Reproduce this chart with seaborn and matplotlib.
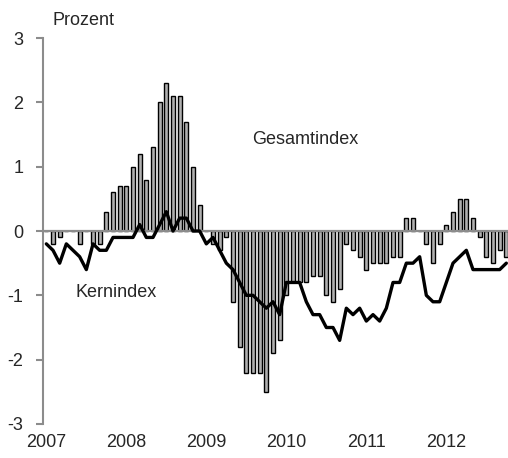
import numpy as np
import pandas as pd
import seaborn as sns
import matplotlib.pyplot as plt

# Data: monthly values, Jan 2007 - Oct 2012
year_labels = ["2007", "2008", "2009", "2010", "2011", "2012"]

gesamtindex = [0, -0.2, -0.1, 0, 0, -0.2, 0, -0.2, -0.2, 0.3, 0.6, 0.7,
               0.7, 1.0, 1.2, 0.8, 1.3, 2.0, 2.3, 2.1, 2.1, 1.7, 1.0, 0.4,
               0, -0.2, -0.3, -0.1, -1.1, -1.8, -2.2, -2.2, -2.2, -2.5, -1.9, -1.7,
               -1.0, -0.8, -0.8, -0.8, -0.7, -0.7, -1.0, -1.1, -0.9, -0.2, -0.3, -0.4,
               -0.6, -0.5, -0.5, -0.5, -0.4, -0.4, 0.2, 0.2, 0, -0.2, -0.5, -0.2,
               0.1, 0.3, 0.5, 0.5, 0.2, -0.1, -0.4, -0.5, -0.3, -0.4]

kernindex = [-0.2, -0.3, -0.5, -0.2, -0.3, -0.4, -0.6, -0.2, -0.3, -0.3, -0.1, -0.1,
             -0.1, -0.1, 0.1, -0.1, -0.1, 0.1, 0.3, 0.0, 0.2, 0.2, 0.0, 0.0,
             -0.2, -0.1, -0.3, -0.5, -0.6, -0.8, -1.0, -1.0, -1.1, -1.2, -1.1, -1.3,
             -0.8, -0.8, -0.8, -1.1, -1.3, -1.3, -1.5, -1.5, -1.7, -1.2, -1.3, -1.2,
             -1.4, -1.3, -1.4, -1.2, -0.8, -0.8, -0.5, -0.5, -0.4, -1.0, -1.1, -1.1,
             -0.8, -0.5, -0.4, -0.3, -0.6, -0.6, -0.6, -0.6, -0.6, -0.5]

months = np.arange(len(gesamtindex))
df = pd.DataFrame({"month": months, "gesamt": gesamtindex, "kern": kernindex})

sns.set_style("white")
plt.rcParams['font.family'] = ['Liberation Sans', 'DejaVu Sans']
plt.rcParams['axes.unicode_minus'] = False

fig = plt.figure(figsize=(5.08, 4.58), dpi=100)
ax = fig.add_axes([43 / 508, 34 / 458, 465 / 508, 386 / 458])

# Bars (Gesamtindex)
sns.barplot(data=df, x="month", y="gesamt", native_scale=True, width=0.6,
            color="#b0b0b0", edgecolor="black", linewidth=1.0, saturation=1,
            errorbar=None, ax=ax)

# zero line
ax.axhline(0, color="#8c8c8c", lw=1.6, zorder=1.5)

# Line (Kernindex)
sns.lineplot(data=df, x="month", y="kern", color="black", lw=2.4, ax=ax)

ax.set_xlim(-0.5, 69.25)
ax.set_ylim(-3, 3)
ax.set_yticks([-3, -2, -1, 0, 1, 2, 3])
ax.set_yticklabels(["-3", "-2", "-1", "0", "1", "2", "3"], fontsize=13)
ax.set_xticks([0, 12, 24, 36, 48, 60])
ax.set_xticklabels(year_labels, fontsize=13)
ax.tick_params(axis="x", length=0, pad=7)
ax.tick_params(axis="y", direction="out", length=5, width=1.5, color="#8c8c8c",
               pad=9, left=True)
ax.set_xlabel("")
ax.set_ylabel("")

for s in ["top", "right", "bottom"]:
    ax.spines[s].set_visible(False)
ax.spines["left"].set_color("#8c8c8c")
ax.spines["left"].set_linewidth(1.5)

fig.text(52 / 508, 1 - 25 / 458, "Prozent", fontsize=13, va="baseline")
ax.text(38.8, 1.42, "Gesamtindex", fontsize=13, ha="center", va="center")
ax.text(10.5, -0.95, "Kernindex", fontsize=13, ha="center", va="center")

plt.savefig("out.png", dpi=100)
